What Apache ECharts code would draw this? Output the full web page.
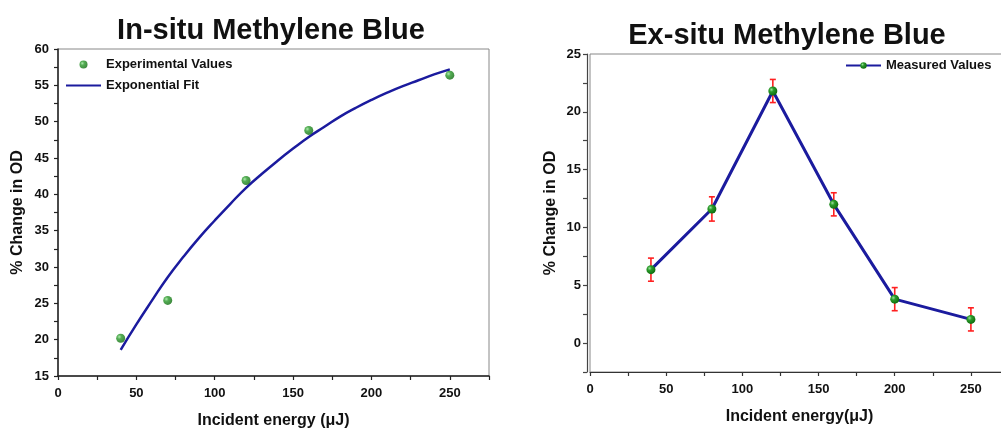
<!DOCTYPE html>
<html>
<head>
<meta charset="utf-8">
<script src="https://cdn.jsdelivr.net/npm/echarts@6/dist/echarts.min.js"></script>
<style>
html, body { margin: 0; padding: 0; background: #fff; }
#main { width: 1001px; height: 428px; }
</style>
</head>
<body>
<div id="main"></div>
<script>
// In-situ: measured points
var insituEnergy = [40, 70, 120, 160, 250];
var insituValues = [20.2, 25.4, 41.9, 48.8, 56.4];
// In-situ: exponential fit curve
var fitEnergy = [40, 50, 60, 70, 80, 90, 100, 110, 120, 130, 140, 150, 160, 170, 180, 190, 200, 210, 220, 230, 240, 250];
var fitValues = [18.6, 22.1, 25.4, 28.6, 31.4, 34.0, 36.4, 38.7, 40.9, 42.8, 44.6, 46.3, 47.9, 49.3, 50.7, 51.9, 53.0, 54.0, 54.9, 55.7, 56.5, 57.2];
// Ex-situ: measured values with error bars
var exsituEnergy = [40, 80, 120, 160, 200, 250];
var exsituValues = [6.35, 11.6, 21.8, 12.0, 3.8, 2.05];
var exsituErrors = [1.0, 1.05, 1.0, 1.0, 1.0, 1.0];

var font = 'Arial, "Liberation Sans", sans-serif';
var lineBlue = '#1b1b9e';
var dotGreen = new echarts.graphic.RadialGradient(0.35, 0.35, 0.7, [
    { offset: 0, color: '#9be39b' },
    { offset: 0.35, color: '#2a9a2a' },
    { offset: 1, color: '#0d6a0d' }
]);

function zip(xs, ys) {
    var out = [];
    for (var i = 0; i < xs.length; i++) out.push([xs[i], ys[i]]);
    return out;
}

var errData = [];
for (var i = 0; i < exsituEnergy.length; i++) {
    errData.push([exsituEnergy[i], exsituValues[i], exsituErrors[i]]);
}

// only label every `step`, the ticks in between act as minor ticks
function every(step) {
    return function (v) {
        return Math.abs(v / step - Math.round(v / step)) < 1e-6 ? String(v) : '';
    };
}

var labelStyle = { color: '#111', fontFamily: font, fontWeight: 'bold', fontSize: 13 };
var nameStyle = { color: '#111', fontFamily: font, fontWeight: 'bold', fontSize: 16 };
var titleStyle = { fontFamily: font, fontWeight: 'bold', fontSize: 29, color: '#111' };

var myChart = echarts.init(document.getElementById('main'));
var option = {
    backgroundColor: '#fff',
    animation: false,
    title: [
        { text: 'In-situ Methylene Blue', left: 271, top: 16, textAlign: 'center', padding: 0, textStyle: titleStyle },
        { text: 'Ex-situ Methylene Blue', left: 787, top: 21, textAlign: 'center', padding: 0, textStyle: titleStyle }
    ],
    legend: [
        {
            orient: 'vertical', left: 65, top: 58, padding: 0, itemGap: 8,
            itemWidth: 35, itemHeight: 8,
            textStyle: labelStyle,
            data: ['Experimental Values', 'Exponential Fit']
        },
        {
            orient: 'vertical', left: 845, top: 59, padding: 0,
            itemWidth: 35, itemHeight: 8,
            textStyle: labelStyle,
            data: ['Measured Values']
        }
    ],
    grid: [
        { left: 58, top: 49, width: 431, height: 327, show: true, borderColor: '#888', borderWidth: 1, outerBoundsMode: 'none', containLabel: false },
        { left: 590, top: 54, width: 419, height: 318, show: true, borderColor: '#888', borderWidth: 1, outerBoundsMode: 'none', containLabel: false }
    ],
    xAxis: [
        {
            gridIndex: 0, type: 'value', min: 0, max: 275, interval: 25,
            name: 'Incident energy (\u03bcJ)', nameLocation: 'middle', nameGap: 37, nameTextStyle: nameStyle,
            axisLine: { onZero: false, lineStyle: { color: '#222', width: 1.5 } },
            axisTick: { length: 4, lineStyle: { color: '#222', width: 1.2 } },
            axisLabel: Object.assign({ margin: 11, formatter: every(50) }, labelStyle),
            splitLine: { show: false }
        },
        {
            gridIndex: 1, type: 'value', min: 0, max: 275, interval: 25,
            name: 'Incident energy(\u03bcJ)', nameLocation: 'middle', nameGap: 37, nameTextStyle: nameStyle,
            axisLine: { onZero: false, lineStyle: { color: '#333', width: 1.2 } },
            axisTick: { length: 4, lineStyle: { color: '#333', width: 1.2 } },
            axisLabel: Object.assign({ margin: 11, formatter: every(50) }, labelStyle),
            splitLine: { show: false }
        }
    ],
    yAxis: [
        {
            gridIndex: 0, type: 'value', min: 15, max: 60, interval: 2.5,
            name: '% Change in OD', nameLocation: 'middle', nameGap: 32, nameTextStyle: nameStyle,
            axisLine: { onZero: false, lineStyle: { color: '#222', width: 1.5 } },
            axisTick: { length: 4, lineStyle: { color: '#222', width: 1.2 } },
            axisLabel: Object.assign({ margin: 9, formatter: every(5) }, labelStyle),
            splitLine: { show: false }
        },
        {
            gridIndex: 1, type: 'value', min: -2.5, max: 25, interval: 2.5, offset: 3,
            name: '% Change in OD', nameLocation: 'middle', nameGap: 28, nameTextStyle: nameStyle,
            axisLine: { onZero: false, lineStyle: { color: '#444', width: 1.2 } },
            axisTick: { length: 4, lineStyle: { color: '#444', width: 1.2 } },
            axisLabel: Object.assign({ margin: 6, formatter: every(5) }, labelStyle),
            splitLine: { show: false }
        },
        {
            // second line of the doubled left axis
            gridIndex: 1, type: 'value', min: -2.5, max: 25,
            axisLine: { show: true, onZero: false, lineStyle: { color: '#444', width: 1.2 } },
            axisTick: { show: false }, axisLabel: { show: false }, splitLine: { show: false }
        }
    ],
    series: [
        {
            name: 'Exponential Fit', type: 'line', xAxisIndex: 0, yAxisIndex: 0,
            smooth: true, symbol: 'circle', showSymbol: false,
            lineStyle: { color: lineBlue, width: 2.5 },
            itemStyle: { color: 'rgba(0,0,0,0)' },
            data: zip(fitEnergy, fitValues), z: 2
        },
        {
            name: 'Experimental Values', type: 'scatter', xAxisIndex: 0, yAxisIndex: 0,
            symbolSize: 9,
            itemStyle: { color: dotGreen },
            data: zip(insituEnergy, insituValues), z: 3
        },
        {
            name: 'errors', type: 'custom', xAxisIndex: 1, yAxisIndex: 1, z: 1,
            renderItem: function (params, api) {
                var x = api.value(0), y = api.value(1), e = api.value(2);
                var top = api.coord([x, y + e]);
                var bot = api.coord([x, y - e]);
                var w = 3;
                var style = { stroke: '#ff2020', lineWidth: 1.6 };
                return {
                    type: 'group',
                    children: [
                        { type: 'line', shape: { x1: top[0], y1: top[1], x2: bot[0], y2: bot[1] }, style: style },
                        { type: 'line', shape: { x1: top[0] - w, y1: top[1], x2: top[0] + w, y2: top[1] }, style: style },
                        { type: 'line', shape: { x1: bot[0] - w, y1: bot[1], x2: bot[0] + w, y2: bot[1] }, style: style }
                    ]
                };
            },
            data: errData
        },
        {
            name: 'Measured Values', type: 'line', xAxisIndex: 1, yAxisIndex: 1,
            symbol: 'circle', symbolSize: 9, showSymbol: true,
            lineStyle: { color: lineBlue, width: 3 },
            itemStyle: { color: dotGreen, borderWidth: 0 },
            data: zip(exsituEnergy, exsituValues), z: 2
        }
    ]
};
myChart.setOption(option);
</script>
</body>
</html>
